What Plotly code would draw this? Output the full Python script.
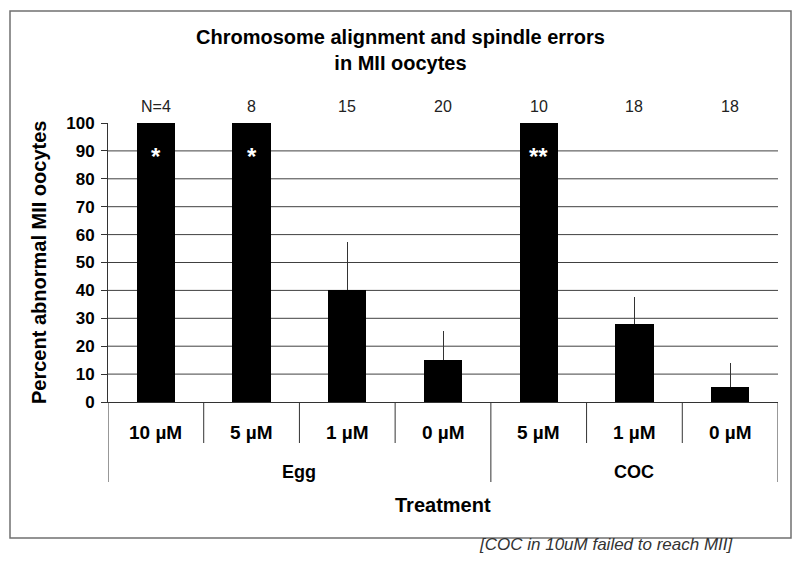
import plotly.graph_objects as go

# ---- data ----
doses = ["10 µM", "5 µM", "1 µM", "0 µM", "5 µM", "1 µM", "0 µM"]
groups = ["Egg", "Egg", "Egg", "Egg", "COC", "COC", "COC"]
group_names = ["Egg", "COC"]
percent_abnormal = [100, 100, 40, 15, 100, 28, 5.5]
error_plus = [0, 0, 17.5, 10.5, 0, 9.5, 8.5]
n_labels = ["N=4", "8", "15", "20", "10", "18", "18"]
signif = ["*", "*", "", "", "**", "", ""]
y_ticks = [0, 10, 20, 30, 40, 50, 60, 70, 80, 90, 100]

W, H = 800, 563
L, R, T, B = 108, 22, 123, 161
PW, PH = W - L - R, H - T - B


def px_x(px):
    return (px - L) / PW


def px_y(py):
    return (H - B - py) / PH


FONT = "Liberation Sans, Arial, sans-serif"
xs = list(range(len(doses)))

fig = go.Figure()
fig.add_trace(go.Bar(
    x=xs, y=percent_abnormal, width=0.4,
    marker=dict(color="black", line=dict(width=0)),
    error_y=dict(type="data", symmetric=False, array=error_plus,
                 arrayminus=[0] * len(xs), color="#333333",
                 thickness=1, width=0, visible=True),
    showlegend=False, hoverinfo="skip",
))

shapes = []
# gridlines (10..90)
for v in y_ticks[1:-1]:
    shapes.append(dict(type="line", xref="paper", yref="y", x0=0, x1=1,
                       y0=v, y1=v, line=dict(color="#404040", width=1),
                       layer="below"))
# inner dividers
for i in range(len(xs) - 1):
    if groups[i] == groups[i + 1]:
        shapes.append(dict(type="line", xref="x", yref="paper",
                           x0=i + 0.5, x1=i + 0.5, y0=px_y(402), y1=px_y(443),
                           line=dict(color="#333333", width=1)))
# outer dividers
outer = [-0.5] + [i + 0.5 for i in range(len(xs) - 1) if groups[i] != groups[i + 1]] + [len(xs) - 0.5]
for xv in outer:
    shapes.append(dict(type="line", xref="x", yref="paper",
                       x0=xv, x1=xv, y0=px_y(402), y1=px_y(482),
                       line=dict(color="#333333", width=1)))
# outer border
shapes.append(dict(type="rect", xref="paper", yref="paper",
                   x0=px_x(10), x1=px_x(791), y0=px_y(538), y1=px_y(11),
                   line=dict(color="#707070", width=1.5)))

ann = []
# title
ann.append(dict(text="<b>Chromosome alignment and spindle errors<br>in MII oocytes</b>",
                xref="paper", yref="paper", x=px_x(400), y=px_y(50),
                xanchor="center", yanchor="middle", showarrow=False,
                font=dict(family=FONT, size=20, color="black")))
# N labels
for i, t in enumerate(n_labels):
    ann.append(dict(text=t, xref="x", yref="paper", x=i, y=px_y(107),
                    xanchor="center", yanchor="middle", showarrow=False,
                    font=dict(family=FONT, size=16, color="#222222")))
# significance stars
for i, s in enumerate(signif):
    if s:
        ann.append(dict(text="<b>" + s + "</b>", xref="x", yref="paper", x=i,
                        y=px_y(156), xanchor="center", yanchor="middle",
                        showarrow=False,
                        font=dict(family=FONT, size=24, color="white")))
# dose labels
for i, d in enumerate(doses):
    ann.append(dict(text="<b>" + d + "</b>", xref="x", yref="paper", x=i,
                    y=px_y(432), xanchor="center", yanchor="middle",
                    showarrow=False,
                    font=dict(family=FONT, size=19, color="black")))
# group labels
for g in group_names:
    idx = [i for i, gg in enumerate(groups) if gg == g]
    ann.append(dict(text="<b>" + g + "</b>", xref="x", yref="paper",
                    x=sum(idx) / len(idx), y=px_y(472), xanchor="center",
                    yanchor="middle", showarrow=False,
                    font=dict(family=FONT, size=18, color="black")))
# x axis title
ann.append(dict(text="<b>Treatment</b>", xref="paper", yref="paper",
                x=px_x(443), y=px_y(505), xanchor="center", yanchor="middle",
                showarrow=False, font=dict(family=FONT, size=20, color="black")))
# y axis title
ann.append(dict(text="<b>Percent abnormal MII oocytes</b>", xref="paper", yref="paper",
                x=px_x(39), y=px_y(263), xanchor="center", yanchor="middle",
                textangle=-90, showarrow=False,
                font=dict(family=FONT, size=20, color="black")))
# footnote
ann.append(dict(text="<i>[COC in 10uM failed to reach MII]</i>", xref="paper",
                yref="paper", x=px_x(606), y=px_y(544), xanchor="center",
                yanchor="middle", showarrow=False,
                font=dict(family=FONT, size=17, color="#333333")))

fig.update_layout(
    width=W, height=H, autosize=False,
    margin=dict(l=L, r=R, t=T, b=B, pad=0),
    paper_bgcolor="white", plot_bgcolor="white",
    shapes=shapes, annotations=ann, bargap=0,
    xaxis=dict(range=[-0.5, len(xs) - 0.5], showticklabels=False,
               showgrid=False, zeroline=False, ticks="",
               showline=True, linecolor="#333333", linewidth=1),
    yaxis=dict(range=[0, 100], tickvals=y_ticks, showgrid=False,
               zeroline=False, showline=True, linecolor="#333333",
               linewidth=1, ticks="outside", ticklen=6, tickcolor="#333333",
               tickfont=dict(family=FONT, size=17, color="black", weight="bold"),
               ticklabelstandoff=3),
    font=dict(family=FONT),
)

fig.write_html("out.html",
               config={"displayModeBar": False, "staticPlot": True},
               post_script="document.body.style.margin='0';document.body.style.overflow='hidden';")
